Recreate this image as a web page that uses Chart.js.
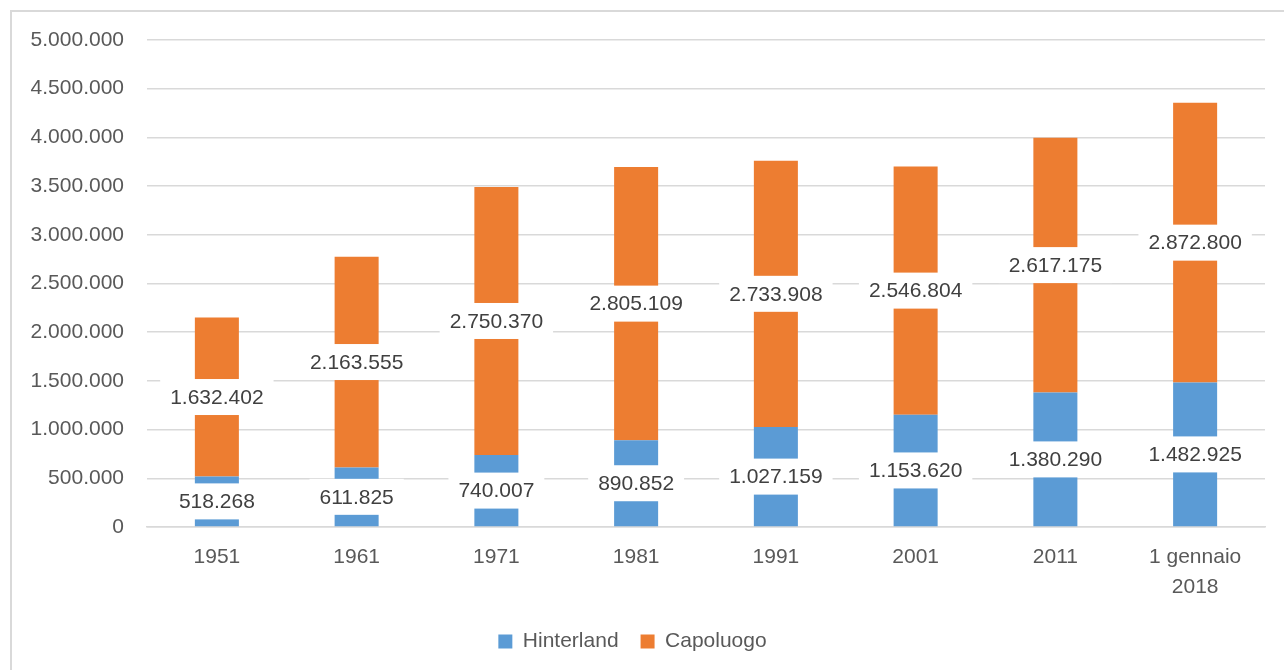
<!DOCTYPE html>
<html>
<head>
<meta charset="utf-8">
<script src="https://cdn.jsdelivr.net/npm/chart.js@4.4.1/dist/chart.umd.min.js"></script>
<style>
  html, body { margin: 0; padding: 0; background: #fff; overflow: hidden; }
  #wrap { position: absolute; left: 0; top: 0; width: 1284px; height: 670px; }
  #frame { position: absolute; left: 10px; top: 10px; width: 1300px; height: 700px; border: 2px solid #d9d9d9; box-sizing: border-box; pointer-events: none; }
  canvas { position: absolute; left: 0; top: 0; }
</style>
</head>
<body>
<div id="wrap">
  <canvas id="c" width="1284" height="670"></canvas>
  <div id="frame"></div>
</div>
<script>
const categories = ['1951', '1961', '1971', '1981', '1991', '2001', '2011', ['1 gennaio', '2018']];
const hinterland = [518268, 611825, 740007, 890852, 1027159, 1153620, 1380290, 1482925];
const capoluogo = [1632402, 2163555, 2750370, 2805109, 2733908, 2546804, 2617175, 2872800];
const seriesNames = ['Hinterland', 'Capoluogo'];
const yMax = 5000000;
const yStep = 500000;

function fmt(n) {
  return String(Math.round(n)).replace(/\B(?=(\d{3})+(?!\d))/g, '.');
}

const FONT = "'Liberation Sans', Arial, sans-serif";

const labelPlugin = {
  id: 'boxLabels',
  afterDatasetsDraw(chart) {
    const ctx = chart.ctx;
    ctx.save();
    ctx.font = '21px ' + FONT;
    ctx.textAlign = 'center';
    ctx.textBaseline = 'middle';
    chart.data.datasets.forEach((ds, di) => {
      const meta = chart.getDatasetMeta(di);
      meta.data.forEach((el, i) => {
        const txt = fmt(ds.data[i]);
        const cx = el.x;
        const cy = (el.y + el.base) / 2;
        const w = ctx.measureText(txt).width + 20;
        const h = 36;
        ctx.fillStyle = '#ffffff';
        ctx.fillRect(cx - w / 2, cy - h / 2, w, h);
        ctx.fillStyle = '#404040';
        ctx.fillText(txt, cx, cy + 1);
      });
    });
    ctx.restore();
  }
};

new Chart(document.getElementById('c'), {
  type: 'bar',
  data: {
    labels: categories,
    datasets: [
      { label: seriesNames[0], data: hinterland, backgroundColor: '#5B9BD5', barPercentage: 0.315, categoryPercentage: 1 },
      { label: seriesNames[1], data: capoluogo, backgroundColor: '#ED7D31', barPercentage: 0.315, categoryPercentage: 1 }
    ]
  },
  options: {
    responsive: false,
    animation: false,
    devicePixelRatio: 1,
    layout: { padding: { left: 0, right: 19, top: 40, bottom: 8 } },
    plugins: {
      legend: {
        position: 'bottom',
        labels: {
          font: { family: FONT, size: 21 },
          color: '#595959',
          boxWidth: 14,
          boxHeight: 14,
          padding: 22
        }
      },
      tooltip: { enabled: false }
    },
    scales: {
      x: {
        stacked: true,
        grid: { display: false, drawTicks: false },
        border: { display: true, color: '#d9d9d9', width: 1.5 },
        ticks: {
          font: { family: FONT, size: 21, lineHeight: 1.4 },
          color: '#595959',
          padding: 16,
          maxRotation: 0,
          autoSkip: false
        },
        afterFit(scale) { scale.height = 82; }
      },
      y: {
        stacked: true,
        min: 0,
        max: yMax,
        grid: { color: '#d9d9d9', lineWidth: 1.5, drawTicks: false },
        border: { display: false },
        ticks: {
          stepSize: yStep,
          font: { family: FONT, size: 21 },
          color: '#595959',
          padding: 23,
          callback: v => fmt(v)
        },
        afterFit(scale) { scale.width = 147; }
      }
    }
  },
  plugins: [labelPlugin]
});
</script>
</body>
</html>
